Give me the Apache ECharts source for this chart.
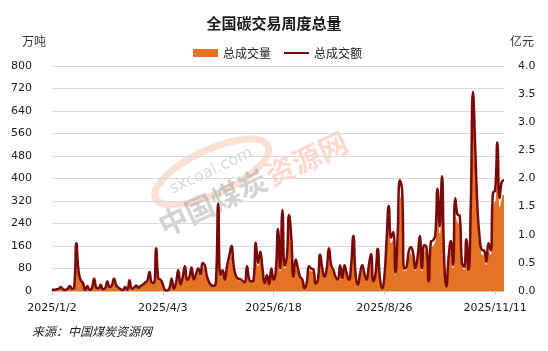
<!DOCTYPE html>
<html>
<head>
<meta charset="utf-8">
<script src="https://cdn.jsdelivr.net/npm/echarts@6/dist/echarts.min.js"></script>
<style>
html, body { margin: 0; padding: 0; background: #fff; }
#container { width: 548px; height: 351px; }
</style>
</head>
<body>
<div id="container"></div>
<script>
// 轴上显示的日期（每50个点一个标签），最后几天在11/11之后
var labelDates = ['2025/1/2', '2025/4/3', '2025/6/18', '2025/8/26', '2025/11/11'];
var tailDates = ['2025/11/12', '2025/11/13', '2025/11/14', '2025/11/17'];
var stepsPerLabel = 50;

// 总成交量（万吨）
var volume = [
    5, 4, 5, 7, 13, 5, 4, 7, 16, 7,
    11, 153, 63, 34, 25, 4, 16, 4, 9, 40,
    11, 9, 20, 5, 9, 31, 13, 18, 40, 18,
    11, 5, 4, 13, 4, 34, 7, 11, 18, 11,
    16, 20, 27, 32, 61, 27, 25, 137, 40, 36,
    22, 4, 2, 9, 40, 7, 27, 67, 22, 45,
    79, 36, 45, 76, 36, 54, 72, 54, 90, 81,
    45, 27, 18, 16, 31, 270, 50, 67, 36, 81,
    112, 144, 81, 49, 40, 38, 32, 27, 79, 36,
    31, 36, 155, 90, 126, 72, 25, 50, 22, 72,
    36, 63, 198, 72, 259, 81, 108, 243, 171, 45,
    101, 72, 45, 36, 9, 27, 79, 72, 68, 23,
    36, 117, 72, 45, 72, 137, 83, 67, 45, 36,
    83, 41, 83, 56, 36, 81, 176, 54, 20, 54,
    83, 56, 36, 81, 119, 31, 54, 135, 41, 9,
    45, 162, 272, 171, 189, 59, 180, 350, 320, 72,
    77, 126, 140, 121, 72, 108, 176, 72, 148, 140,
    31, 158, 162, 180, 320, 207, 360, 99, 14, 108,
    160, 83, 295, 245, 241, 90, 77, 166, 67, 280,
    730, 475, 270, 171, 131, 130, 94, 153, 130, 310,
    322, 470, 300, 340, 345
];

// 总成交额（亿元）
var amount = [
    0.03, 0.02, 0.03, 0.04, 0.07, 0.03, 0.02, 0.04, 0.09, 0.04,
    0.06, 0.85, 0.35, 0.19, 0.14, 0.02, 0.09, 0.02, 0.05, 0.22,
    0.06, 0.05, 0.11, 0.03, 0.05, 0.17, 0.07, 0.10, 0.22, 0.10,
    0.06, 0.03, 0.02, 0.07, 0.02, 0.19, 0.04, 0.06, 0.10, 0.06,
    0.09, 0.11, 0.15, 0.18, 0.34, 0.15, 0.14, 0.76, 0.22, 0.20,
    0.12, 0.02, 0.01, 0.05, 0.22, 0.04, 0.15, 0.37, 0.12, 0.25,
    0.44, 0.20, 0.25, 0.42, 0.20, 0.30, 0.40, 0.30, 0.50, 0.45,
    0.25, 0.15, 0.10, 0.09, 0.17, 1.55, 0.28, 0.37, 0.20, 0.45,
    0.62, 0.80, 0.45, 0.27, 0.22, 0.21, 0.18, 0.15, 0.44, 0.20,
    0.17, 0.20, 0.86, 0.50, 0.70, 0.40, 0.14, 0.28, 0.12, 0.40,
    0.20, 0.35, 1.10, 0.40, 1.44, 0.45, 0.60, 1.35, 0.95, 0.25,
    0.56, 0.40, 0.25, 0.20, 0.05, 0.15, 0.44, 0.40, 0.38, 0.13,
    0.20, 0.65, 0.40, 0.25, 0.40, 0.76, 0.46, 0.37, 0.25, 0.20,
    0.46, 0.23, 0.46, 0.31, 0.20, 0.45, 0.98, 0.30, 0.11, 0.30,
    0.46, 0.31, 0.20, 0.45, 0.66, 0.17, 0.30, 0.75, 0.23, 0.05,
    0.25, 0.90, 1.51, 0.95, 1.05, 0.33, 1.00, 1.97, 1.80, 0.40,
    0.43, 0.70, 0.78, 0.67, 0.40, 0.60, 0.98, 0.40, 0.82, 0.78,
    0.17, 0.88, 0.90, 1.00, 1.82, 1.15, 2.04, 0.55, 0.08, 0.60,
    0.89, 0.46, 1.65, 1.36, 1.34, 0.50, 0.43, 0.92, 0.37, 1.50,
    3.54, 2.57, 1.50, 0.95, 0.73, 0.72, 0.52, 0.85, 0.72, 1.74,
    1.79, 2.64, 1.65, 1.94, 1.97
];

var leftTicks = { min: 0, max: 800, interval: 80 };
var rightTicks = { min: 0, max: 4, interval: 0.5 };

// 两个标签之间按日历天数均分，得到类目轴的日期
function buildDates() {
    var out = [];
    for (var s = 0; s < labelDates.length - 1; s++) {
        var a = new Date(labelDates[s]);
        var b = new Date(labelDates[s + 1]);
        var days = Math.round((b - a) / 86400000);
        for (var j = 0; j < stepsPerLabel; j++) {
            var d = new Date(a.getTime() + Math.round(j * days / stepsPerLabel) * 86400000);
            out.push(d.getFullYear() + '/' + (d.getMonth() + 1) + '/' + d.getDate());
        }
    }
    out.push(labelDates[labelDates.length - 1]);
    return out.concat(tailDates);
}
var dates = buildDates();

var cn = '"Noto Sans CJK SC", sans-serif';
var num = '"DejaVu Sans", sans-serif';
var orange = '#E47324';
var darkRed = '#7A0909';

var dom = document.getElementById('container');
var myChart = echarts.init(dom, null, { renderer: 'canvas' });

var option = {
    animation: false,
    backgroundColor: '#fff',
    title: {
        text: '全国碳交易周度总量',
        left: 'center',
        top: 11,
        textStyle: { fontSize: 15, fontWeight: 'bold', color: '#1a1a1a', fontFamily: cn }
    },
    legend: [{
        data: [{ name: '总成交量', icon: 'rect', itemStyle: { color: orange, borderWidth: 0 } }],
        left: 188, top: 42,
        itemWidth: 25, itemHeight: 8,
        textStyle: { fontSize: 12, color: '#222', fontFamily: cn }
    }, {
        data: [{ name: '总成交额', icon: 'rect', itemStyle: { color: darkRed, borderWidth: 0 } }],
        left: 279, top: 42,
        itemWidth: 25, itemHeight: 2,
        textStyle: { fontSize: 12, color: '#222', fontFamily: cn }
    }],
    grid: { left: 52, right: 44, top: 66, bottom: 60 },
    xAxis: {
        type: 'category',
        boundaryGap: false,
        data: dates,
        axisLine: { lineStyle: { color: '#c8c8c8' } },
        axisTick: { show: true, interval: stepsPerLabel - 1, length: 4, lineStyle: { color: '#c8c8c8' } },
        axisLabel: { interval: stepsPerLabel - 1, color: '#1a1a1a', fontSize: 11, fontFamily: num, margin: 12 },
        splitLine: { show: false }
    },
    yAxis: [{
        type: 'value',
        min: leftTicks.min, max: leftTicks.max, interval: leftTicks.interval,
        axisLine: { show: false },
        axisTick: { show: false },
        axisLabel: { color: '#1a1a1a', fontSize: 11, fontFamily: num, margin: 20 },
        splitLine: { lineStyle: { color: '#d9d9d9', width: 1 } }
    }, {
        type: 'value',
        min: rightTicks.min, max: rightTicks.max, interval: rightTicks.interval,
        axisLine: { show: false },
        axisTick: { show: false },
        axisLabel: {
            color: '#1a1a1a', fontSize: 11, fontFamily: num, margin: 14,
            formatter: function (v) { return v.toFixed(1); }
        },
        splitLine: { show: false }
    }],
    series: [{
        name: '总成交量',
        type: 'line',
        yAxisIndex: 0,
        data: volume,
        showSymbol: false,
        symbol: 'none',
        itemStyle: { color: orange },
        lineStyle: { color: '#ffffff', width: 1 },
        areaStyle: { color: orange, opacity: 1 },
        z: 2
    }, {
        name: '总成交额',
        type: 'line',
        yAxisIndex: 1,
        data: amount,
        smooth: 0.5,
        showSymbol: false,
        symbol: 'none',
        itemStyle: { color: darkRed },
        lineStyle: { color: darkRed, width: 2.5 },
        z: 3
    }],
    graphic: [{
        type: 'text', left: 22, top: 35,
        style: { text: '万吨', fontSize: 12, fill: '#333', fontFamily: cn }
    }, {
        type: 'text', left: 510, top: 35,
        style: { text: '亿元', fontSize: 12, fill: '#333', fontFamily: cn }
    }, {
        type: 'text', left: 32, top: 325,
        style: { text: '来源：中国煤炭资源网', fontSize: 12, fontStyle: 'italic', fill: '#1a1a1a', fontFamily: cn }
    }, {
        // 水印
        type: 'group', x: 278, y: 172, rotation: 25 * Math.PI / 180, z: 1, silent: true,
        children: [{
            type: 'ellipse',
            shape: { cx: -60, cy: -28, rx: 62, ry: 22 },
            style: { fill: 'none', stroke: 'rgba(238,120,60,0.22)', lineWidth: 7 }
        }, {
            type: 'text', x: -60, y: -29,
            style: { text: 'sxcoal.com', fontSize: 16, fill: 'rgba(150,150,150,0.35)', fontFamily: num, align: 'center', verticalAlign: 'middle' }
        }, {
            type: 'text', x: -14, y: 0,
            style: { text: '中国煤炭', fontSize: 29, fontWeight: 'bold', fill: 'rgba(140,140,140,0.38)', fontFamily: cn, align: 'right', verticalAlign: 'middle' }
        }, {
            type: 'text', x: -12, y: 0,
            style: { text: '资源网', fontSize: 29, fontWeight: 'bold', fill: 'rgba(245,130,100,0.3)', fontFamily: cn, align: 'left', verticalAlign: 'middle' }
        }]
    }]
};
myChart.setOption(option, true);
</script>
</body>
</html>
